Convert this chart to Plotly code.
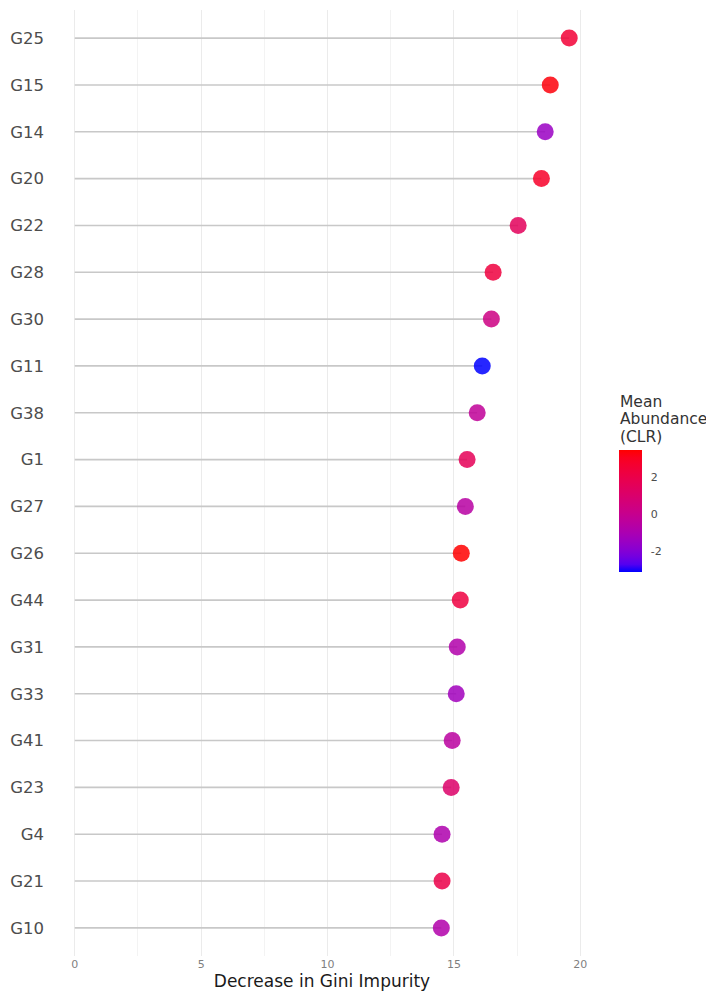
import plotly.graph_objects as go

features = ["G25", "G15", "G14", "G20", "G22", "G28", "G30", "G11", "G38", "G1",
            "G27", "G26", "G44", "G31", "G33", "G41", "G23", "G4", "G21", "G10"]
gini_decrease = [19.56, 18.81, 18.61, 18.46, 17.54, 16.55, 16.48, 16.12, 15.92, 15.52,
                 15.45, 15.29, 15.25, 15.13, 15.09, 14.93, 14.89, 14.53, 14.53, 14.50]
mean_abundance = [2.5, 3.3, -1.5, 2.8, 1.5, 2.3, 0.3, -3.15, -0.3, 1.6,
                  -0.6, 3.45, 2.2, -0.8, -1.3, -0.5, 1.1, -0.9, 2.0, -0.8]
x_ticks = [0, 5, 10, 15, 20]
cb_ticks = [-2, 0, 2]
cb_title_lines = ["Mean", "Abundance", "(CLR)"]


# Lab-space gradient blue -> red (like ggplot's scale_color_gradient)
def srgb_to_lin(c):
    return c / 12.92 if c <= 0.04045 else ((c + 0.055) / 1.055) ** 2.4


def lin_to_srgb(c):
    c = max(0.0, min(1.0, c))
    return 12.92 * c if c <= 0.0031308 else 1.055 * c ** (1 / 2.4) - 0.055


WX, WY, WZ = 0.95047, 1.0, 1.08883


def rgb_to_lab(rgb):
    r, g, b = [srgb_to_lin(v / 255) for v in rgb]
    X = 0.4124 * r + 0.3576 * g + 0.1805 * b
    Y = 0.2126 * r + 0.7152 * g + 0.0722 * b
    Z = 0.0193 * r + 0.1192 * g + 0.9505 * b

    def f(t):
        return t ** (1 / 3) if t > 0.008856 else 7.787 * t + 16 / 116
    fx, fy, fz = f(X / WX), f(Y / WY), f(Z / WZ)
    return (116 * fy - 16, 500 * (fx - fy), 200 * (fy - fz))


def lab_to_rgb(lab):
    L, a, bb = lab
    fy = (L + 16) / 116
    fx = fy + a / 500
    fz = fy - bb / 200

    def finv(t):
        return t ** 3 if t ** 3 > 0.008856 else (t - 16 / 116) / 7.787
    X, Y, Z = WX * finv(fx), WY * finv(fy), WZ * finv(fz)
    r = 3.2406 * X - 1.5372 * Y - 0.4986 * Z
    g = -0.9689 * X + 1.8758 * Y + 0.0415 * Z
    b = 0.0557 * X - 0.2040 * Y + 1.0570 * Z
    return tuple(round(lin_to_srgb(v) * 255) for v in (r, g, b))


lo, hi = rgb_to_lab((0, 0, 255)), rgb_to_lab((255, 0, 0))
n = 16
colorscale = []
for i in range(n + 1):
    t = i / n
    lab = tuple(lo[k] + (hi[k] - lo[k]) * t for k in range(3))
    r, g, b = lab_to_rgb(lab)
    colorscale.append([t, f"rgb({r},{g},{b})"])

seg_x, seg_y = [], []
for f_, v in zip(features, gini_decrease):
    seg_x += [0, v, None]
    seg_y += [f_, f_, None]

fig = go.Figure()
fig.add_trace(go.Scatter(x=seg_x, y=seg_y, mode="lines",
                         line=dict(color="#c8c8c8", width=1.6),
                         hoverinfo="skip", showlegend=False))
fig.add_trace(go.Scatter(
    x=gini_decrease, y=features, mode="markers", showlegend=False,
    marker=dict(size=17, color=mean_abundance, colorscale=colorscale, opacity=0.85,
                line=dict(width=0),
                cmin=min(mean_abundance), cmax=max(mean_abundance),
                colorbar=dict(
                    x=1.046, xanchor="left", xpad=0,
                    y=0.470, yanchor="middle", ypad=0,
                    len=122, lenmode="pixels", thickness=23,
                    outlinewidth=0, tickvals=cb_ticks, ticktext=[str(t) for t in cb_ticks],
                    ticks="outside", ticklen=7, tickcolor="rgba(255,255,255,0)", tickwidth=1,
                    tickfont=dict(size=11, color="#4d4d4d", family="DejaVu Sans"),
                ))))

line_step = 17.5 / 946
for i, txt in enumerate(cb_title_lines):
    fig.add_annotation(text=txt, xref="paper", yref="paper",
                       x=1.044, y=0.586 - i * line_step, xanchor="left", yanchor="middle",
                       showarrow=False, align="left",
                       font=dict(size=15.5, color="#333333", family="DejaVu Sans"))

fig.update_layout(
    width=714, height=1005,
    margin=dict(l=42, r=128, t=2, b=57, autoexpand=False),
    plot_bgcolor="white", paper_bgcolor="white",
    font=dict(family="DejaVu Sans"),
    xaxis=dict(range=[-0.98, 20.54], tickvals=x_ticks, showgrid=True,
               gridcolor="#ebebeb", gridwidth=1,
               minor=dict(dtick=2.5, tick0=0, showgrid=True, gridcolor="#f3f3f3", gridwidth=0.8),
               zeroline=False, showline=False, ticks="",
               tickfont=dict(size=11, color="#7f7f7f"),
               title=dict(text="Decrease in Gini Impurity", standoff=2,
                          font=dict(size=17, color="#1a1a1a"))),
    yaxis=dict(categoryorder="array", categoryarray=features[::-1],
               range=[-0.6, len(features) - 0.4], showgrid=False, zeroline=False,
               ticks="", ticklabelstandoff=5,
               tickfont=dict(size=16.5, color="#4d4d4d")),
)

fig.write_html("out.html")
